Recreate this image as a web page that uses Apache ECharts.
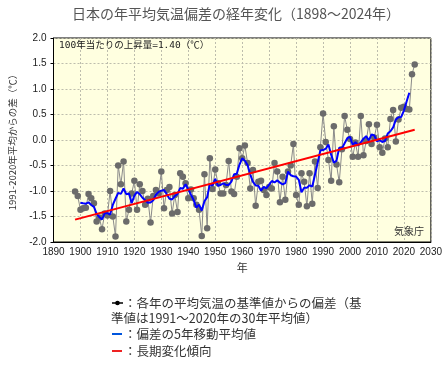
<!DOCTYPE html>
<html><head><meta charset="utf-8">
<script src="https://cdn.jsdelivr.net/npm/echarts/dist/echarts.min.js"></script>
<style>html,body{margin:0;padding:0;background:#fff}#c{width:445px;height:366px}</style>
</head><body><div id="c"></div>
<script>
// ---- data ----
const startYear = 1898;
const anomalies = [
  -1.01, -1.10,
  -1.37,-1.34,-1.33,-1.06,-1.14,-1.24,-1.60,-1.52,-1.75,-1.44, // 1900s
  -1.48,-1.00,-1.50,-1.89,-0.50,-0.87,-0.42,-1.60,-1.37,-1.05, // 1910s
  -0.80,-1.37,-0.87,-1.00,-1.27,-1.15,-1.62,-1.10,-0.98,-1.05, // 1920s
  -0.62,-1.34,-0.98,-0.92,-1.44,-1.08,-1.41,-0.65,-0.72,-0.85, // 1930s
  -1.14,-0.97,-1.14,-1.27,-1.37,-1.88,-0.67,-1.73,-0.36,-0.96, // 1940s
  -0.58,-0.85,-1.05,-1.05,-0.88,-0.41,-1.01,-1.06,-0.72,-0.16, // 1950s
  -0.36,-0.11,-0.45,-0.95,-0.59,-1.29,-0.82,-0.80,-0.98,-1.08, // 1960s
  -0.92,-0.95,-0.45,-0.62,-1.22,-0.72,-1.17,-0.62,-0.50,-0.08, // 1970s
  -1.08,-1.27,-0.65,-0.82,-1.30,-0.65,-1.25,-0.42,-0.94,-0.14, // 1980s
   0.52,-0.04,-0.39,-0.80, 0.27,-0.48,-0.83,-0.18, 0.47, 0.20, // 1990s
   0.02,-0.33,-0.05,-0.33, 0.47,-0.30,-0.02, 0.31,-0.08, 0.05, // 2000s
   0.30,-0.14,-0.25, 0.03,-0.14, 0.41, 0.59,-0.03, 0.40, 0.63, // 2010s
   0.65, 0.61, 0.60, 1.29, 1.48                                 // 2020s
];
const movingWindow = 5;
const xRange = [1890, 2030, 10];
const yRange = [-2.0, 2.0, 0.5];
const titleText = '日本の年平均気温偏差の経年変化（1898～2024年）';
const yAxisName = '1991-2020年平均からの差（℃）';
const xAxisName = '年';
const rateText = '100年当たりの上昇量=1.40（℃）';
const sourceText = '気象庁';
const legendLines = [
  '：各年の平均気温の基準値からの偏差（基',
  '準値は1991～2020年の30年平均値）',
  '：偏差の5年移動平均値',
  '：長期変化傾向'
];

// ---- derived ----
const years = anomalies.map((v, i) => startYear + i);
const annual = anomalies.map((v, i) => [years[i], v]);
const half = Math.floor(movingWindow / 2);
const ma = [];
for (let i = half; i < anomalies.length - half; i++) {
  let s = 0;
  for (let k = -half; k <= half; k++) s += anomalies[i + k];
  ma.push([years[i], +(s / movingWindow).toFixed(3)]);
}
const n = anomalies.length;
const xm = years.reduce((a, b) => a + b, 0) / n;
const ym = anomalies.reduce((a, b) => a + b, 0) / n;
let sxy = 0, sxx = 0;
for (let i = 0; i < n; i++) { sxy += (years[i] - xm) * (anomalies[i] - ym); sxx += (years[i] - xm) ** 2; }
const slope = sxy / sxx;
const trend = [years[0], years[n - 1]].map(x => [x, ym + slope * (x - xm)]);

const jp = '"Noto Sans CJK JP", sans-serif';
const lat = '"Liberation Sans", Arial, sans-serif';
const chart = echarts.init(document.getElementById('c'), null, {renderer: 'canvas'});
chart.setOption({
  animation: false,
  backgroundColor: '#fff',
  grid: {left: 48, right: 12, top: 38, height: 204, show: true,
         backgroundColor: '#FFFFE0', borderColor: '#000', borderWidth: 1},
  xAxis: {
    type: 'value', min: xRange[0], max: xRange[1], interval: xRange[2],
    name: xAxisName, nameLocation: 'middle', nameGap: 19,
    nameTextStyle: {fontFamily: jp, fontSize: 11, color: '#333'},
    axisLine: {show: true, onZero: false, lineStyle: {color: '#000', width: 1}},
    axisTick: {show: false},
    axisLabel: {fontFamily: lat, fontSize: 10, color: '#222', margin: 5,
                formatter: v => String(v)},
    splitLine: {show: true, lineStyle: {color: '#bdbdad', type: [2, 2], width: 1}}
  },
  yAxis: {
    type: 'value', min: yRange[0], max: yRange[1], interval: yRange[2],
    name: yAxisName, nameLocation: 'middle', nameGap: 36, nameRotate: 90,
    nameTextStyle: {fontFamily: jp, fontSize: 9.5, color: '#333'},
    axisLine: {show: true, onZero: false, lineStyle: {color: '#000', width: 1}},
    axisTick: {show: true, length: 3, lineStyle: {color: '#000'}},
    axisLabel: {fontFamily: lat, fontSize: 10, color: '#222', margin: 7,
                formatter: v => v.toFixed(1)},
    splitLine: {show: true, lineStyle: {color: '#bdbdad', type: [2, 2], width: 1}}
  },
  series: [
    {type: 'line', data: annual, symbol: 'circle', symbolSize: 6.5,
     itemStyle: {color: '#6b6b6b'}, lineStyle: {color: '#8a8a8a', width: 1}, z: 2},
    {type: 'line', data: ma, symbol: 'none', lineStyle: {color: '#0000ff', width: 2}, z: 3},
    {type: 'line', data: trend, symbol: 'none', lineStyle: {color: '#ff0000', width: 2}, z: 4}
  ],
  graphic: [
    {type: 'text', x: 236, y: 14, z: 100, style: {text: titleText, fontFamily: jp, fontSize: 14, fill: '#555', align: 'center', verticalAlign: 'middle'}},
    {type: 'text', x: 59, y: 46, z: 100, style: {text: rateText, fontFamily: '"DejaVu Sans Mono", ' + jp, fontSize: 9.5, fill: '#222', align: 'left', verticalAlign: 'middle'}},
    {type: 'text', x: 424, y: 231, z: 100, style: {text: sourceText, fontFamily: jp, fontSize: 10, fill: '#333', align: 'right', verticalAlign: 'middle'}},
    {type: 'line', z: 100, shape: {x1: 112, y1: 303, x2: 123, y2: 303}, style: {stroke: '#000', lineWidth: 1.5}},
    {type: 'circle', z: 101, shape: {cx: 117.5, cy: 303, r: 2.3}, style: {fill: '#000'}},
    {type: 'line', z: 100, shape: {x1: 112, y1: 334, x2: 122, y2: 334}, style: {stroke: '#0055dd', lineWidth: 2}},
    {type: 'line', z: 100, shape: {x1: 112, y1: 351, x2: 122, y2: 351}, style: {stroke: '#ee2222', lineWidth: 2}},
    {type: 'text', x: 124, y: 303, z: 100, style: {text: legendLines[0], fontFamily: jp, fontSize: 12.5, fill: '#333', align: 'left', verticalAlign: 'middle'}},
    {type: 'text', x: 111, y: 318, z: 100, style: {text: legendLines[1], fontFamily: jp, fontSize: 12.5, fill: '#333', align: 'left', verticalAlign: 'middle'}},
    {type: 'text', x: 124, y: 334, z: 100, style: {text: legendLines[2], fontFamily: jp, fontSize: 12.5, fill: '#333', align: 'left', verticalAlign: 'middle'}},
    {type: 'text', x: 124, y: 351, z: 100, style: {text: legendLines[3], fontFamily: jp, fontSize: 12.5, fill: '#333', align: 'left', verticalAlign: 'middle'}}
  ]
});
</script></body></html>
